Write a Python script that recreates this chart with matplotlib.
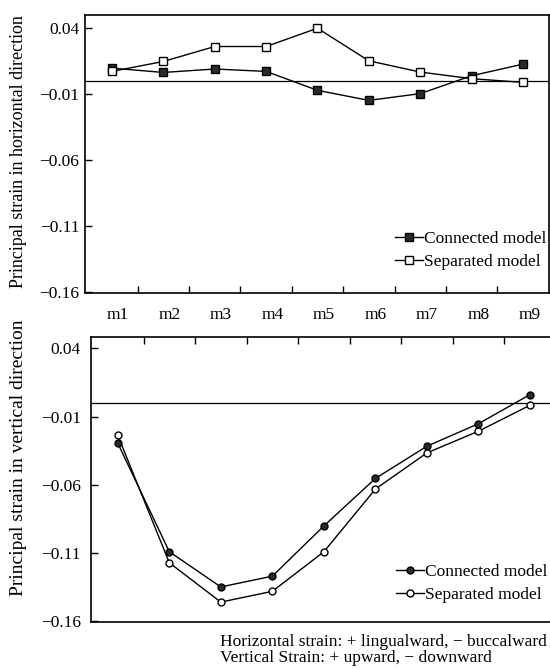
import numpy as np
import matplotlib
matplotlib.use("Agg")
import matplotlib.pyplot as plt

plt.rcParams['font.family'] = ['Liberation Serif', 'DejaVu Serif']

sites = ['m1', 'm2', 'm3', 'm4', 'm5', 'm6', 'm7', 'm8', 'm9']
y_ticks = [0.04, -0.01, -0.06, -0.11, -0.16]
y_tick_labels = ['0.04', '\u22120.01', '\u22120.06', '\u22120.11', '\u22120.16']

# horizontal strain (top panel)
horiz_connected = [0.0094, 0.0061, 0.0087, 0.0069, -0.0074, -0.0150, -0.0099, 0.0036, 0.0124]
horiz_separated = [0.0069, 0.0144, 0.0257, 0.0257, 0.0395, 0.0149, 0.0064, 0.0014, -0.0014]

# vertical strain (bottom panel)
vert_connected = [-0.0295, -0.1090, -0.1348, -0.1269, -0.0901, -0.0553, -0.0317, -0.0152, 0.0061]
vert_separated = [-0.0238, -0.1171, -0.1459, -0.1380, -0.1090, -0.0631, -0.0366, -0.0207, -0.0017]

x = np.arange(1, len(sites) + 1)
mids = x[:-1] + 0.5

fig = plt.figure(figsize=(5.5, 6.7), dpi=100)
ax1 = fig.add_axes([0.1545, 0.5627, 0.8436, 0.4149])
ax2 = fig.add_axes([0.165, 0.0716, 0.846, 0.4254])


def style_axis(ax, ylim, pad):
    ax.set_xlim(0.475, 9.506)
    ax.set_ylim(*ylim)
    ax.axhline(0, color='black', lw=0.9, zorder=1)
    ax.set_yticks(y_ticks)
    ax.set_yticklabels(y_tick_labels)
    ax.tick_params(axis='y', direction='in', length=5, width=1, labelsize=12.5, pad=pad)
    for s in ax.spines.values():
        s.set_linewidth(1.2)


# top panel
ax1.plot(x, horiz_connected, color='black', lw=1, marker='s', ms=6,
         mfc='#2a2a2a', mec='black', label='Connected model', zorder=3)
ax1.plot(x, horiz_separated, color='black', lw=1, marker='s', ms=6,
         mfc='white', mec='black', mew=1, label='Separated model', zorder=3)
style_axis(ax1, (-0.1605, 0.0495), 4)
ax1.set_xticks(mids)
ax1.set_xticklabels([])
ax1.tick_params(axis='x', direction='in', length=5, width=1, bottom=True, top=False)
ax1.set_ylabel('Principal strain in horizontal direction', fontsize=13)
ax1.yaxis.set_label_coords(-0.125, 0.507)
ax1.legend(loc='lower right', frameon=False, fontsize=12.5, handlelength=1.6,
           handletextpad=0.1, borderpad=0, borderaxespad=0, labelspacing=0.4,
           bbox_to_anchor=(0.995, 0.083))

# bottom panel
ax2.plot(x, vert_connected, color='black', lw=1, marker='o', ms=5,
         mfc='#2a2a2a', mec='black', label='Connected model', zorder=3)
ax2.plot(x, vert_separated, color='black', lw=1, marker='o', ms=5,
         mfc='white', mec='black', mew=1, label='Separated model', zorder=3)
style_axis(ax2, (-0.1605, 0.0483), 7)
ax2.xaxis.tick_top()
ax2.set_xticks(mids, minor=True)
ax2.set_xticks(x)
ax2.set_xticklabels(sites)
ax2.tick_params(axis='x', which='major', length=0, labelsize=12.5, pad=10)
ax2.tick_params(axis='x', which='minor', direction='in', length=5, width=1)
ax2.set_ylabel('Principal strain in vertical direction', fontsize=14)
ax2.yaxis.set_label_coords(-0.138, 0.577)
ax2.legend(loc='lower right', frameon=False, fontsize=12.5, handlelength=1.6,
           handletextpad=0.1, borderpad=0, borderaxespad=0, labelspacing=0.4,
           bbox_to_anchor=(0.982, 0.067))

fig.text(0.4, 0.0418, 'Horizontal strain: + lingualward, \u2212 buccalward', fontsize=12.5, va='center')
fig.text(0.4, 0.0179, 'Vertical Strain: + upward, \u2212 downward', fontsize=12.5, va='center')

fig.savefig('out.png', dpi=100)
